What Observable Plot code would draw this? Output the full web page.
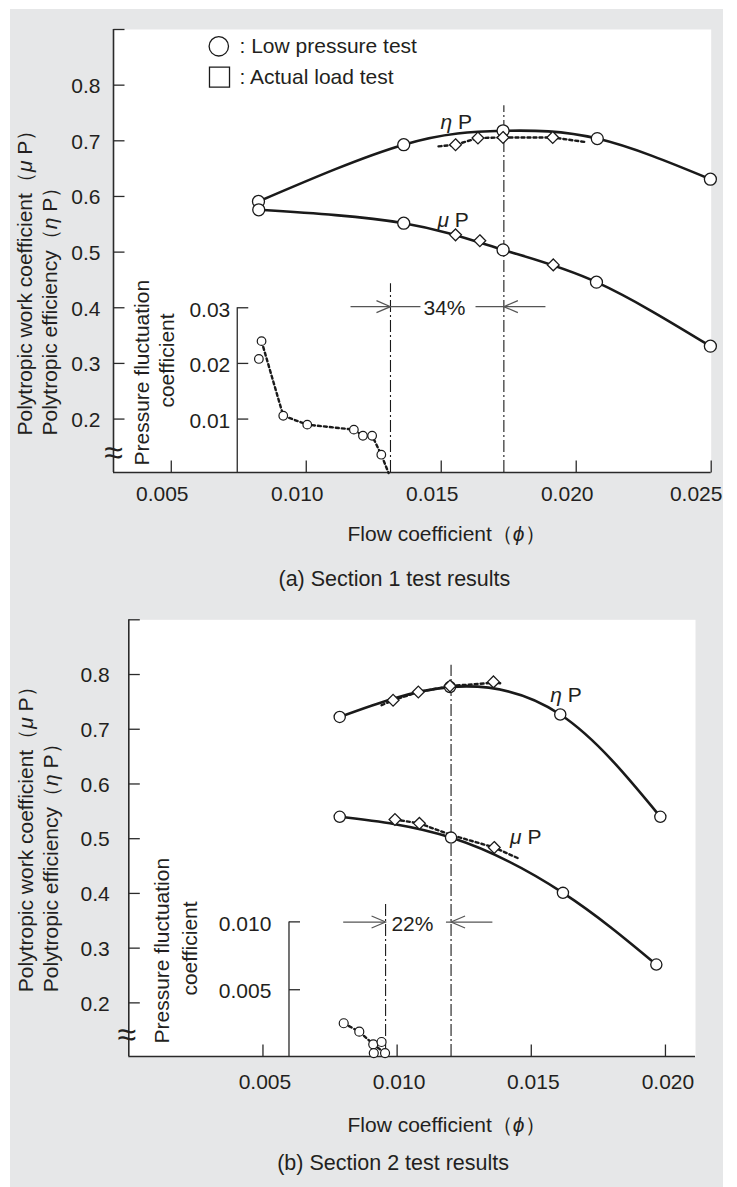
<!DOCTYPE html>
<html><head><meta charset="utf-8">
<script src="https://cdn.jsdelivr.net/npm/d3@7"></script>
<script src="https://cdn.jsdelivr.net/npm/@observablehq/plot@0.6"></script>
<style>
html,body{margin:0;padding:0;background:#fff;}
body{width:737px;height:1187px;position:relative;overflow:hidden;font-family:"Liberation Sans",Arial,Helvetica,sans-serif;}
#bg{position:absolute;left:10px;top:9px;width:713px;height:1178px;background:#e6e7e8;}
#a,#b{position:absolute;left:0;}
#a{top:0px;}
#b{top:600px;}
svg{overflow:visible;}
</style></head><body>
<div id="bg"></div><div id="a"></div><div id="b"></div>
<script>
// ================= DATA =================
// ---- (a) Section 1 ----
const a_xTicks = [0.005, 0.010, 0.015, 0.020, 0.025];
const a_yTicks = [0.2, 0.3, 0.4, 0.5, 0.6, 0.7, 0.8];
const a_pTicks = [0.01, 0.02, 0.03];
const a_etaLow_phi = [0.00823, 0.01361, 0.01729, 0.02078, 0.02497];
const a_etaLow     = [0.591, 0.693, 0.718, 0.704, 0.631];
const a_muLow_phi  = [0.00824, 0.01361, 0.01729, 0.02075, 0.02497];
const a_muLow      = [0.576, 0.552, 0.504, 0.446, 0.331];
const a_etaLoad_phi = [0.01553, 0.01636, 0.01729, 0.01913];
const a_etaLoad     = [0.693, 0.705, 0.706, 0.706];
const a_etaLoadFit_phi = [0.0149, 0.01553, 0.01636, 0.01729, 0.01913, 0.0203];
const a_etaLoadFit     = [0.690, 0.693, 0.705, 0.706, 0.706, 0.698];
const a_muLoad_phi = [0.01553, 0.01643, 0.01915];
const a_muLoad     = [0.531, 0.5205, 0.477];
const a_press_phi = [0.008344, 0.008245, 0.009148, 0.010037, 0.011764, 0.0121, 0.01244, 0.01278];
const a_press     = [0.0240, 0.0208, 0.0106, 0.0090, 0.0081, 0.0070, 0.0070, 0.0036];
const a_pressFit_phi = [0.008344, 0.009148, 0.010037, 0.011764, 0.0121, 0.01244, 0.01278, 0.01305];
const a_pressFit     = [0.0240, 0.0106, 0.0090, 0.0081, 0.0070, 0.0070, 0.0036, 0.0003];
const a_surgePhi = 0.01312, a_designPhi = 0.01732, a_marginText = "34%";

// ---- (b) Section 2 ----
const b_xTicks = [0.005, 0.010, 0.015, 0.020];
const b_yTicks = [0.2, 0.3, 0.4, 0.5, 0.6, 0.7, 0.8];
const b_pTicks = [0.005, 0.010];
const b_etaLow_phi = [0.00786, 0.01197, 0.01608, 0.01981];
const b_etaLow     = [0.7225, 0.777, 0.727, 0.540];
const b_muLow_phi  = [0.00786, 0.01201, 0.01618, 0.01966];
const b_muLow      = [0.540, 0.502, 0.401, 0.270];
const b_etaLoad_phi = [0.00985, 0.01079, 0.01197, 0.01359];
const b_etaLoad     = [0.753, 0.768, 0.779, 0.7865];
const b_etaLoadFit_phi = [0.00942, 0.00985, 0.01079, 0.01197, 0.01359, 0.01384];
const b_etaLoadFit     = [0.744, 0.753, 0.768, 0.779, 0.785, 0.784];
const b_muLoad_phi = [0.00992, 0.01083, 0.01362];
const b_muLoad     = [0.535, 0.528, 0.484];
const b_muLoadFit_phi = [0.00992, 0.01083, 0.0120, 0.01362, 0.01452];
const b_muLoadFit     = [0.535, 0.528, 0.507, 0.484, 0.464];
const b_press_phi = [0.00801, 0.00859, 0.00911, 0.00942, 0.00913, 0.00955];
const b_press     = [0.00253, 0.00191, 0.00098, 0.00115, 0.00033, 0.00033];
const b_pressFit_phi = [0.00801, 0.00859, 0.00911, 0.00955];
const b_pressFit     = [0.00253, 0.00191, 0.00098, 0.00033];
const b_surgePhi = 0.00957, b_designPhi = 0.01201, b_marginText = "22%";

// ---- text ----
const yTitle1 = "Polytropic work coefficient（μ P）";
const yTitle2 = "Polytropic efficiency（η P）";
const pTitle1 = "Pressure fluctuation";
const pTitle2 = "coefficient";
const xTitle = "Flow coefficient（ϕ）";
const legendLow = ": Low pressure test";
const legendLoad = ": Actual load test";
const captionA = "(a) Section 1 test results";
const captionB = "(b) Section 2 test results";

// ================= DRAWING =================
const K = "#1a1a1a", AX = "#2a2a2a", TX = "#231f20", GR = "#555";
const FS = 21;
const tickUp = {draw(c){ c.moveTo(0,0); c.lineTo(0,-12); }};
const tickRight = {draw(c){ c.moveTo(0,0); c.lineTo(11,0); }};
const arrowR = {draw(c){ c.moveTo(-14,-6); c.lineTo(0,0); c.lineTo(-14,6); }};
const arrowL = {draw(c){ c.moveTo(14,-6); c.lineTo(0,0); c.lineTo(14,6); }};
const zip = (xs, ys) => xs.map((x, i) => ({x, y: ys[i]}));
const T = {fill: TX, fontSize: FS, lineAnchor: "middle"};

function panel(P) {
  const pv = p => P.pBase + p * P.pScale;
  const y0 = P.yDomain[0];
  const xt = P.xTicks;
  const marks = [
    Plot.frame({fill: "white", stroke: "none"}),
    // main axes
    Plot.ruleX([P.xDomain[0]], {stroke: AX, strokeWidth: 1.6}),
    Plot.ruleY([y0], {stroke: AX, strokeWidth: 1.6}),
    Plot.dot(xt, {x: d => d, frameAnchor: "bottom", symbol: tickUp, stroke: AX, fill: "none", strokeWidth: 1.3}),
    Plot.dot([...P.yTicks, P.yDomain[1]], {y: d => d, frameAnchor: "left", symbol: tickRight, stroke: AX, fill: "none", strokeWidth: 1.3}),
    Plot.text(xt.slice(0, -1), {...T, x: d => d, frameAnchor: "bottom", dx: P.xLabDx, dy: P.xLabDy, text: d3.format(".3f")}),
    Plot.text(xt.slice(-1), {...T, x: d => d, frameAnchor: "bottom", dx: P.xLabDxLast, dy: P.xLabDy, text: d3.format(".3f")}),
    Plot.text(P.yTicks, {...T, y: d => d, frameAnchor: "left", dx: P.yLabDx, dy: 1, text: d3.format(".1f"), textAnchor: "end"}),
    Plot.text(["≈"], {...T, frameAnchor: "bottom-left", dx: P.breakDx, dy: P.breakDy, fontSize: 34, textAnchor: "middle"}),
    // inset pressure axis
    Plot.ruleX([P.insetX], {y1: y0, y2: pv(P.pTicks[P.pTicks.length - 1]), stroke: AX, strokeWidth: 1.3}),
    Plot.dot(P.pTicks, {x: () => P.insetX, y: d => pv(d), symbol: tickRight, stroke: AX, fill: "none", strokeWidth: 1.3}),
    Plot.text(P.pTicks, {...T, x: () => P.insetX, y: d => pv(d), dx: P.pLabDx, dy: 2, text: d3.format(P.pFmt), textAnchor: "end"}),
    // vertical dash-dot reference lines
    Plot.ruleX([P.surgePhi], {y1: y0, y2: P.surgeTop, stroke: K, strokeWidth: 1.1, strokeDasharray: "12,3,2,3"}),
    Plot.ruleX([P.designPhi], {y1: y0, y2: P.designTop, stroke: K, strokeWidth: 1.1, strokeDasharray: "12,3,2,3"}),
    // dimension arrows
    Plot.link(P.dimSegs, {x1: "x1", x2: "x2", y1: () => P.dimY, y2: () => P.dimY, stroke: GR, strokeWidth: 1.2}),
    Plot.dot([P.surgePhi], {x: d => d, y: () => P.dimY, symbol: arrowR, stroke: GR, fill: "none", strokeWidth: 1.2}),
    Plot.dot([P.designPhi], {x: d => d, y: () => P.dimY, symbol: arrowL, stroke: GR, fill: "none", strokeWidth: 1.2}),
    Plot.text([P.marginText], {...T, x: () => P.marginX, y: () => P.dimY, dy: 2}),
    // pressure fluctuation data
    Plot.line(zip(P.pressFit_phi, P.pressFit.map(pv)), {x: "x", y: "y", stroke: K, strokeWidth: 2.4, strokeDasharray: "3,3"}),
    Plot.dot(zip(P.press_phi, P.press.map(pv)), {x: "x", y: "y", r: P.rSmall, stroke: K, fill: "white", strokeWidth: 1.2}),
    // performance curves
    Plot.line(zip(P.etaLow_phi, P.etaLow), {x: "x", y: "y", curve: "natural", stroke: K, strokeWidth: 2.6}),
    Plot.line(zip(P.muLow_phi, P.muLow), {x: "x", y: "y", curve: "natural", stroke: K, strokeWidth: 2.6}),
    Plot.line(zip(P.etaLoadFit_phi, P.etaLoadFit), {x: "x", y: "y", stroke: K, strokeWidth: 2.4, strokeDasharray: "3,3"}),
  ];
  if (P.muLoadFit_phi) marks.push(Plot.line(zip(P.muLoadFit_phi, P.muLoadFit), {x: "x", y: "y", stroke: K, strokeWidth: 2.4, strokeDasharray: "3,3"}));
  marks.push(
    Plot.dot(zip(P.etaLow_phi, P.etaLow), {x: "x", y: "y", r: P.rBig, stroke: K, fill: "white", strokeWidth: 1.3}),
    Plot.dot(zip(P.muLow_phi, P.muLow), {x: "x", y: "y", r: P.rBig, stroke: K, fill: "white", strokeWidth: 1.3}),
    Plot.dot(zip(P.etaLoad_phi, P.etaLoad), {x: "x", y: "y", r: 5.3, symbol: "diamond2", stroke: K, fill: "white", strokeWidth: 1.3}),
    Plot.dot(zip(P.muLoad_phi, P.muLoad), {x: "x", y: "y", r: 5.3, symbol: "diamond2", stroke: K, fill: "white", strokeWidth: 1.3}),
    // curve labels
    Plot.text(["η P"], {...T, x: () => P.etaLab[0], y: () => P.etaLab[1], textAnchor: "start"}),
    Plot.text(["μ P"], {...T, x: () => P.muLab[0], y: () => P.muLab[1], textAnchor: "start"}),
    // axis titles
    Plot.text([yTitle1], {...T, frameAnchor: "top-left", dx: P.yT1[0], dy: P.yT1[1], rotate: -90, textAnchor: "start"}),
    Plot.text([yTitle2], {...T, frameAnchor: "top-left", dx: P.yT2[0], dy: P.yT2[1], rotate: -90, textAnchor: "start"}),
    Plot.text([pTitle1], {...T, frameAnchor: "top-left", dx: P.pT1[0], dy: P.pT1[1], rotate: -90, textAnchor: "start"}),
    Plot.text([pTitle2], {...T, frameAnchor: "top-left", dx: P.pT2[0], dy: P.pT2[1], rotate: -90, textAnchor: "middle"}),
    Plot.text([xTitle], {...T, frameAnchor: "bottom-left", dx: P.xT[0], dy: P.xT[1], textAnchor: "start"}),
    Plot.text([P.caption], {...T, frameAnchor: "bottom-left", dx: P.cap[0], dy: P.cap[1], textAnchor: "start", fontSize: 21.5})
  );
  if (P.legend) marks.push(
    Plot.dot([0], {frameAnchor: "top-left", dx: 105.3, dy: 16.8, r: 9.7, stroke: K, fill: "white", strokeWidth: 1.3}),
    Plot.dot([0], {frameAnchor: "top-left", dx: 106, dy: 47.7, r: 11.3, symbol: "square", stroke: K, fill: "white", strokeWidth: 1.3}),
    Plot.text([legendLow], {...T, frameAnchor: "top-left", dx: 126, dy: 17, textAnchor: "start"}),
    Plot.text([legendLoad], {...T, frameAnchor: "top-left", dx: 126, dy: 48, textAnchor: "start"})
  );
  const svg = Plot.plot({
    width: 737, height: P.height,
    marginTop: P.mt, marginLeft: P.ml, marginRight: P.mr, marginBottom: P.mb,
    x: {domain: P.xDomain, axis: null},
    y: {domain: P.yDomain, axis: null},
    style: {background: "transparent", fontFamily: "'Liberation Sans', Arial, Helvetica, sans-serif", overflow: "visible"},
    marks
  });
  // italic Greek letters
  svg.querySelectorAll("text").forEach(t => {
    if (t.children.length) return;
    const s = t.textContent;
    if (!/[μηϕ]/.test(s)) return;
    t.textContent = "";
    for (const part of s.split(/([μηϕ])/)) {
      if (!part) continue;
      const ts = document.createElementNS("http://www.w3.org/2000/svg", "tspan");
      ts.textContent = part;
      if (/[μηϕ]/.test(part)) ts.setAttribute("font-style", "italic");
      t.appendChild(ts);
    }
  });
  return svg;
}

document.getElementById("a").appendChild(panel({
  height: 600, mt: 29, ml: 113, mr: 26.3, mb: 128,
  xDomain: [0.00286, 0.025], yDomain: [0.104, 0.9],
  xTicks: a_xTicks, yTicks: a_yTicks, pTicks: a_pTicks, pFmt: ".2f",
  pBase: 0.1, pScale: 10, insetX: 0.007444,
  xLabDx: -9, xLabDxLast: -15, xLabDy: 21.6, yLabDx: -13, pLabDx: -7, breakDx: 0, breakDy: -19,
  etaLow_phi: a_etaLow_phi, etaLow: a_etaLow, muLow_phi: a_muLow_phi, muLow: a_muLow,
  etaLoad_phi: a_etaLoad_phi, etaLoad: a_etaLoad, etaLoadFit_phi: a_etaLoadFit_phi, etaLoadFit: a_etaLoadFit,
  muLoad_phi: a_muLoad_phi, muLoad: a_muLoad,
  press_phi: a_press_phi, press: a_press, pressFit_phi: a_pressFit_phi, pressFit: a_pressFit,
  surgePhi: a_surgePhi, designPhi: a_designPhi, surgeTop: 0.443, designTop: 0.763,
  dimY: 0.402, dimSegs: [{x1: 0.01164, x2: 0.01423}, {x1: 0.01627, x2: 0.01886}],
  marginText: a_marginText, marginX: 0.01512,
  etaLab: [0.01497, 0.734], muLab: [0.01486, 0.557],
  rBig: 6, rSmall: 4.3,
  yT1: [-88, 406], yT2: [-63, 406], pT1: [29, 436], pT2: [54, 331],
  xT: [234, 61.3], cap: [165, 107], caption: captionA, legend: true
}));

document.getElementById("b").appendChild(panel({
  height: 587, mt: 19.3, ml: 128.3, mr: 42, mb: 131,
  xDomain: [0, 0.02112], yDomain: [0.102, 0.9],
  xTicks: b_xTicks, yTicks: b_yTicks, pTicks: b_pTicks, pFmt: ".3f",
  pBase: 0.1, pScale: 24.8, insetX: 0.00597,
  xLabDx: 2, xLabDxLast: 2.5, xLabDy: 25.9, yLabDx: -19, pLabDx: -17.6, breakDx: -2, breakDy: -21,
  etaLow_phi: b_etaLow_phi, etaLow: b_etaLow, muLow_phi: b_muLow_phi, muLow: b_muLow,
  etaLoad_phi: b_etaLoad_phi, etaLoad: b_etaLoad, etaLoadFit_phi: b_etaLoadFit_phi, etaLoadFit: b_etaLoadFit,
  muLoad_phi: b_muLoad_phi, muLoad: b_muLoad, muLoadFit_phi: b_muLoadFit_phi, muLoadFit: b_muLoadFit,
  press_phi: b_press_phi, press: b_press, pressFit_phi: b_pressFit_phi, pressFit: b_pressFit,
  surgePhi: b_surgePhi, designPhi: b_designPhi, surgeTop: 0.3813, designTop: 0.817,
  dimY: 0.3477, dimSegs: [{x1: 0.00799, x2: 0.00957}, {x1: 0.01182, x2: 0.01355}],
  marginText: b_marginText, marginX: 0.01057,
  etaLab: [0.01571, 0.762], muLab: [0.01421, 0.503],
  rBig: 5.6, rSmall: 4.5,
  yT1: [-103, 372.4], yT2: [-77.5, 372.4], pT1: [33.3, 423.7], pT2: [61.7, 328.7],
  xT: [218.7, 69], cap: [148.4, 107], caption: captionB, legend: false
}));
</script>
</body></html>
